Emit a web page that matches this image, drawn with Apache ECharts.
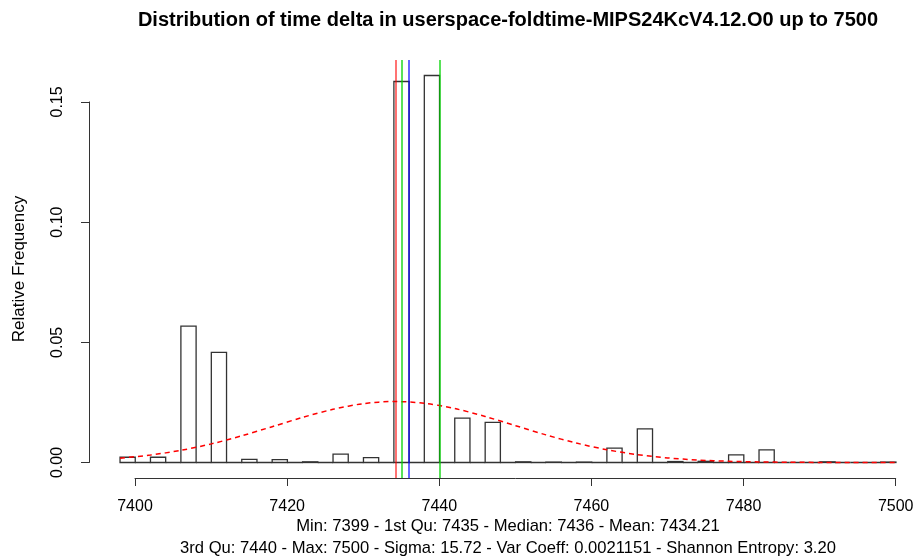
<!DOCTYPE html>
<html>
<head>
<meta charset="utf-8">
<script src="https://cdn.jsdelivr.net/npm/echarts@6/dist/echarts.min.js"></script>
<style>
html,body{margin:0;padding:0;background:#fff;}
#chart{width:917px;height:560px;}
</style>
</head>
<body>
<div id="chart"></div>
<script>
// ---- data ----
const titleText = 'Distribution of time delta in userspace-foldtime-MIPS24KcV4.12.O0 up to 7500';
const yAxisName = 'Relative Frequency';
const subLine1 = 'Min: 7399 - 1st Qu: 7435 - Median: 7436 - Mean: 7434.21';
const subLine2 = '3rd Qu: 7440 - Max: 7500 - Sigma: 15.72 - Var Coeff: 0.0021151 - Shannon Entropy: 3.20';

const binWidth = 2;
const binStart = [7398,7400,7402,7404,7406,7408,7410,7412,7414,7416,7418,7420,7422,7424,7426,7428,7430,7432,7434,7436,7438,7440,7442,7444,7446,7448,7450,7452,7454,7456,7458,7460,7462,7464,7466,7468,7470,7472,7474,7476,7478,7480,7482,7484,7486,7488,7490,7492,7494,7496,7498];
const binFreq  = [0.0022,0,0.0022,0,0.0567,0,0.0458,0,0.0013,0,0.0012,0,0.0003,0,0.0035,0,0.0020,0,0.1585,0,0.1610,0,0.0185,0,0.0167,0,0.0003,0,0.0002,0,0.0002,0,0.0060,0,0.0140,0,0.0004,0,0.0005,0,0.0032,0,0.0053,0,0,0,0.0003,0,0,0,0.0002];

const curveX = [7398,7402,7406,7410,7414,7418,7422,7426,7430,7434,7438,7442,7446,7450,7454,7458,7462,7466,7470,7474,7478,7482,7486,7490,7494,7498,7500];
const curveY = [0.00179,0.00311,0.00507,0.00775,0.01111,0.01491,0.01877,0.02214,0.02449,0.02538,0.02465,0.02245,0.01916,0.01532,0.01149,0.00808,0.00532,0.00328,0.00190,0.00103,0.00052,0.00025,0.00011,0.00005,0.00002,0.00001,0.00000];

const statNames  = ['Mean','1st Qu','Median','3rd Qu'];
const statValues = [7434.21, 7435, 7436, 7440];

const xTickMin = 7400, xTickMax = 7500, xTickStep = 20;
const yTickMin = 0, yTickMax = 0.15, yTickStep = 0.05;

// ---- layout ----
const W = 917;
const statColors = ['rgba(255,0,0,0.55)','rgba(0,210,0,0.65)','rgba(0,0,255,0.6)','rgba(0,210,0,0.65)'];
const dataXMin = 7398, dataXMax = 7500;
const xPad = (dataXMax - dataXMin) * 0.04;
const yMaxData = Math.max(...binFreq);
const yMin = -0.04 * yMaxData, yMax = 1.04 * yMaxData;

const plotLeft = 89, plotTop = 60, plotBottomY = 478;
const x7400 = 135, x7500 = 895.7;
const pxPerX = (x7500 - x7400) / (xTickMax - xTickMin);
const gridXMin = dataXMin - xPad;
const plotRightFull = ((dataXMax + xPad) - gridXMin) * pxPerX; // full R plot width (exceeds canvas)
const plotWidth = W - plotLeft;                                   // visible part
const gridXMax = gridXMin + plotWidth / pxPerX;
const plotCenterX = plotLeft + plotRightFull / 2;
const plotHeight = plotBottomY - plotTop;
const pxPerY = plotHeight / (yMax - yMin);
const y0Pix = plotTop + yMax * pxPerY;
const y015Pix = y0Pix - yTickMax * pxPerY;

const FONT = '"Liberation Sans", Arial, Helvetica, sans-serif';

const chart = echarts.init(document.getElementById('chart'));

const bars = binStart.map((s, i) => [s, s + binWidth, binFreq[i]]);
const curve = curveX.map((x, i) => [x, curveY[i]]);

chart.setOption({
  animation: false,
  backgroundColor: '#fff',
  grid: [
    {left: plotLeft, top: plotTop, width: plotWidth, height: plotHeight},
    {left: x7400, top: plotTop, width: x7500 - x7400, height: plotHeight},
    {left: plotLeft, top: y015Pix, width: 20, height: y0Pix - y015Pix}
  ],
  xAxis: [
    {gridIndex: 0, type: 'value', min: gridXMin, max: gridXMax, show: false},
    {gridIndex: 1, type: 'value', min: xTickMin, max: xTickMax, interval: xTickStep,
     axisLine: {show: true, lineStyle: {color: '#333', width: 1}},
     axisTick: {show: true, length: 8, lineStyle: {color: '#333'}},
     splitLine: {show: false},
     axisLabel: {show: true, color: '#000', fontSize: 16, fontFamily: FONT, margin: 21,
                 formatter: v => String(v), showMinLabel: true, showMaxLabel: true}},
    {gridIndex: 2, type: 'value', min: 0, max: 1, show: false}
  ],
  yAxis: [
    {gridIndex: 0, type: 'value', min: yMin, max: yMax, show: false},
    {gridIndex: 1, type: 'value', min: 0, max: 1, show: false},
    {gridIndex: 2, type: 'value', min: yTickMin, max: yTickMax, interval: yTickStep,
     axisLine: {show: true, lineStyle: {color: '#333', width: 1}},
     axisTick: {show: true, length: 8, lineStyle: {color: '#333'}},
     splitLine: {show: false},
     axisLabel: {show: true, color: '#000', fontSize: 16, fontFamily: FONT, rotate: 90, margin: 23,
                 formatter: v => v.toFixed(2), showMinLabel: true, showMaxLabel: true}}
  ],
  graphic: [
    {type: 'text', x: plotCenterX, y: 20, z: 10,
     style: {text: titleText, font: 'bold 20px ' + FONT, fill: '#000', textAlign: 'center', textVerticalAlign: 'middle'}},
    {type: 'text', x: plotCenterX, y: 526,
     style: {text: subLine1, font: '16.6px ' + FONT, fill: '#000', textAlign: 'center', textVerticalAlign: 'middle'}},
    {type: 'text', x: plotCenterX, y: 548,
     style: {text: subLine2, font: '16.6px ' + FONT, fill: '#000', textAlign: 'center', textVerticalAlign: 'middle'}},
    {type: 'text', x: 19, y: plotTop + plotHeight / 2, rotation: Math.PI / 2,
     style: {text: yAxisName, font: '17px ' + FONT, fill: '#000', textAlign: 'center', textVerticalAlign: 'middle'}}
  ],
  series: [
    {
      type: 'custom', xAxisIndex: 0, yAxisIndex: 0, clip: false, z: 2,
      data: bars,
      encode: {x: [0, 1], y: 2},
      renderItem: function (params, api) {
        const p0 = api.coord([api.value(0), 0]);
        const p1 = api.coord([api.value(1), api.value(2)]);
        return {
          type: 'rect',
          shape: {x: p0[0], y: p1[1], width: p1[0] - p0[0], height: p0[1] - p1[1]},
          style: {fill: 'none', stroke: '#333', lineWidth: 1.3}
        };
      }
    },
    {
      type: 'line', xAxisIndex: 0, yAxisIndex: 0, z: 3,
      data: [], symbol: 'none', silent: true,
      markLine: {
        silent: true, symbol: 'none', animation: false,
        label: {show: false},
        data: statValues.map((v, i) => ({name: statNames[i], xAxis: v, lineStyle: {color: statColors[i], width: 2, type: 'solid'}}))
      }
    },
    {
      type: 'line', xAxisIndex: 0, yAxisIndex: 0, z: 4,
      data: curve, symbol: 'none', smooth: 0.3, clip: false,
      lineStyle: {color: '#ff0000', width: 1.5, type: [5, 4]}
    }
  ]
});
</script>
</body>
</html>
